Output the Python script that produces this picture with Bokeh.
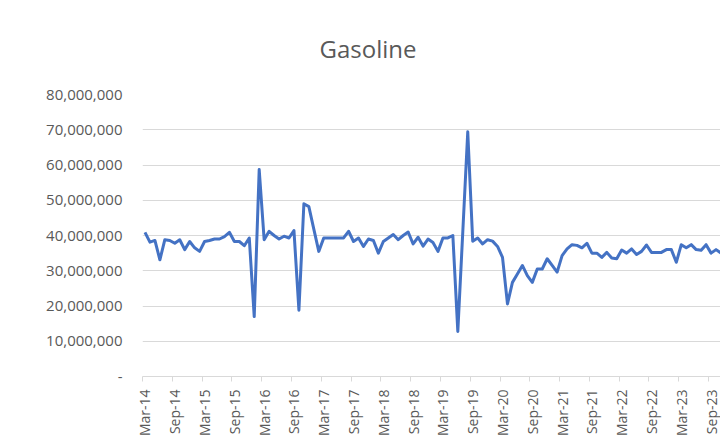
from math import pi
from bokeh.plotting import figure
from bokeh.models import FixedTicker, NumeralTickFormatter, Range1d
from bokeh.embed import file_html
from bokeh.resources import INLINE

title_text = "Gasoline"

# Tick labels (every 6 months, starting Mar-14)
tick_labels = ["Mar-14", "Sep-14", "Mar-15", "Sep-15", "Mar-16", "Sep-16", "Mar-17",
               "Sep-17", "Mar-18", "Sep-18", "Mar-19", "Sep-19", "Mar-20", "Sep-20",
               "Mar-21", "Sep-21", "Mar-22", "Sep-22", "Mar-23", "Sep-23"]

# Monthly gasoline values (Mar-14 ... Nov-23)
values = [
    40.9e6, 38.1e6, 38.6e6, 33.1e6, 38.8e6, 38.6e6, 37.8e6, 38.8e6, 36.0e6, 38.3e6,
    36.5e6, 35.5e6, 38.3e6, 38.6e6, 39.0e6, 39.0e6, 39.7e6, 40.9e6, 38.3e6, 38.3e6,
    37.1e6, 39.3e6, 17.0e6, 58.7e6, 38.8e6, 41.2e6, 40.0e6, 39.0e6, 39.8e6, 39.3e6,
    41.4e6, 18.8e6, 49.0e6, 48.2e6, 41.8e6, 35.5e6, 39.3e6, 39.3e6, 39.3e6, 39.3e6,
    39.3e6, 41.2e6, 38.3e6, 39.3e6, 36.9e6, 39.0e6, 38.6e6, 35.0e6, 38.3e6, 39.3e6,
    40.3e6, 38.8e6, 40.0e6, 41.0e6, 37.6e6, 39.5e6, 37.0e6, 39.0e6, 38.0e6, 35.5e6,
    39.3e6, 39.3e6, 40.0e6, 12.8e6, 41.0e6, 69.4e6, 38.4e6, 39.3e6, 37.6e6, 38.8e6,
    38.4e6, 36.9e6, 33.8e6, 20.6e6, 26.7e6, 29.1e6, 31.5e6, 28.6e6, 26.7e6, 30.5e6,
    30.5e6, 33.4e6, 31.5e6, 29.6e6, 34.3e6, 36.2e6, 37.4e6, 37.2e6, 36.5e6, 37.8e6,
    35.0e6, 35.0e6, 33.8e6, 35.2e6, 33.6e6, 33.4e6, 35.9e6, 35.0e6, 36.2e6, 34.6e6,
    35.5e6, 37.3e6, 35.2e6, 35.2e6, 35.2e6, 36.0e6, 36.0e6, 32.4e6, 37.4e6, 36.5e6,
    37.4e6, 36.0e6, 35.8e6, 37.4e6, 35.0e6, 36.0e6, 35.0e6,
]

y_ticks = [0, 10e6, 20e6, 30e6, 40e6, 50e6, 60e6, 70e6, 80e6]

months = list(range(len(values)))
label_pos = [i * 6 for i in range(len(tick_labels))]
boundary_ticks = [i * 6 - 0.5 for i in range(len(tick_labels) + 1)]

GREY_TXT = "#595959"
GRID = "#d9d9d9"
FONT = "Open Sans"

p = figure(width=720, height=440, output_backend="svg", toolbar_location=None,
           x_range=Range1d(-0.5, 115.9), y_range=Range1d(0, 80e6),
           min_border_left=142, min_border_right=0, min_border_top=94,
           min_border_bottom=64)
p.outline_line_color = None
p.background_fill_color = "white"
p.border_fill_color = "white"

p.line(months, values, line_color="#4472C4", line_width=3, line_join="round")

# Grid
p.xgrid.visible = False
p.ygrid.ticker = FixedTicker(ticks=y_ticks)
p.ygrid.grid_line_color = GRID
p.ygrid.grid_line_width = 1

# Y axis
ya = p.yaxis[0]
ya.ticker = FixedTicker(ticks=y_ticks)
ya.formatter = NumeralTickFormatter(format="0,0")
ya.major_label_overrides = {0: "-"}
ya.axis_line_color = None
ya.major_tick_line_color = None
ya.minor_tick_line_color = None
ya.major_tick_out = 0
ya.major_tick_in = 0
ya.major_label_standoff = 20
ya.major_label_text_font = FONT
ya.major_label_text_font_size = "15px"
ya.major_label_text_color = GREY_TXT

# X axis
xa = p.xaxis[0]
xa.ticker = FixedTicker(ticks=label_pos, minor_ticks=boundary_ticks)
xa.major_label_overrides = {pos: lab for pos, lab in zip(label_pos, tick_labels)}
xa.axis_line_color = GRID
xa.axis_line_width = 1
xa.major_tick_line_color = None
xa.major_tick_out = 0
xa.major_tick_in = 0
xa.minor_tick_line_color = GRID
xa.minor_tick_out = 5
xa.minor_tick_in = 0
xa.major_label_orientation = pi / 2
xa.major_label_standoff = 8
xa.major_label_text_font = FONT
xa.major_label_text_font_size = "14px"
xa.major_label_text_color = GREY_TXT

# Title
p.title.text = title_text
p.title.align = "left"
p.title.offset = 177
p.title.vertical_align = "top"
p.title.text_font = FONT
p.title.text_font_size = "24px"
p.title.text_font_style = "normal"
p.title.text_color = GREY_TXT
p.title.standoff = 55

open("out.html", "w").write(file_html(p, INLINE))
